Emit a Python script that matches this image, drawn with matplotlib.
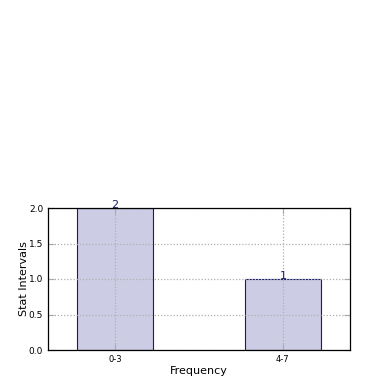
import matplotlib
matplotlib.use("Agg")
import matplotlib.pyplot as plt

categories = ["0-3", "4-7"]
values = [2, 1]

fig = plt.figure(figsize=(3.9, 3.9), dpi=100)
ax = fig.add_axes([48/390, 40/390, 302/390, 142/390])
x = list(range(len(categories)))
bars = ax.bar(x, values, width=0.45, color="#ccccE4", edgecolor="#1a1a6e", linewidth=0.8, zorder=1)
ax.set_xlim(-0.4, 1.4)
ax.set_ylim(0, 2.0)
ax.set_yticks([0, 0.5, 1.0, 1.5, 2.0])
ax.set_yticklabels(["0.0", "0.5", "1.0", "1.5", "2.0"])
ax.set_xticks(x)
ax.set_xticklabels(categories)
ax.tick_params(axis="x", labelsize=6, direction="in", color="#aaaaaa", top=True, length=4)
ax.tick_params(axis="y", labelsize=6.5, direction="in", color="#aaaaaa", right=True, length=4)
ax.grid(True, color="#b0b0b0", linewidth=0.9, linestyle=(0, (1, 1.5)), zorder=3)
ax.set_axisbelow(False)
for xi, v in zip(x, values):
    ax.text(xi, v - 0.03, str(v), ha="center", va="bottom", fontsize=8, color="#1a1a6e", zorder=4)
ax.set_xlabel("Frequency", fontsize=8, labelpad=1.5)
ax.set_ylabel("Stat Intervals", fontsize=8, labelpad=0)
for s in ax.spines.values():
    s.set_linewidth(0.9)
    s.set_zorder(5)
fig.savefig("out.png", dpi=100)
